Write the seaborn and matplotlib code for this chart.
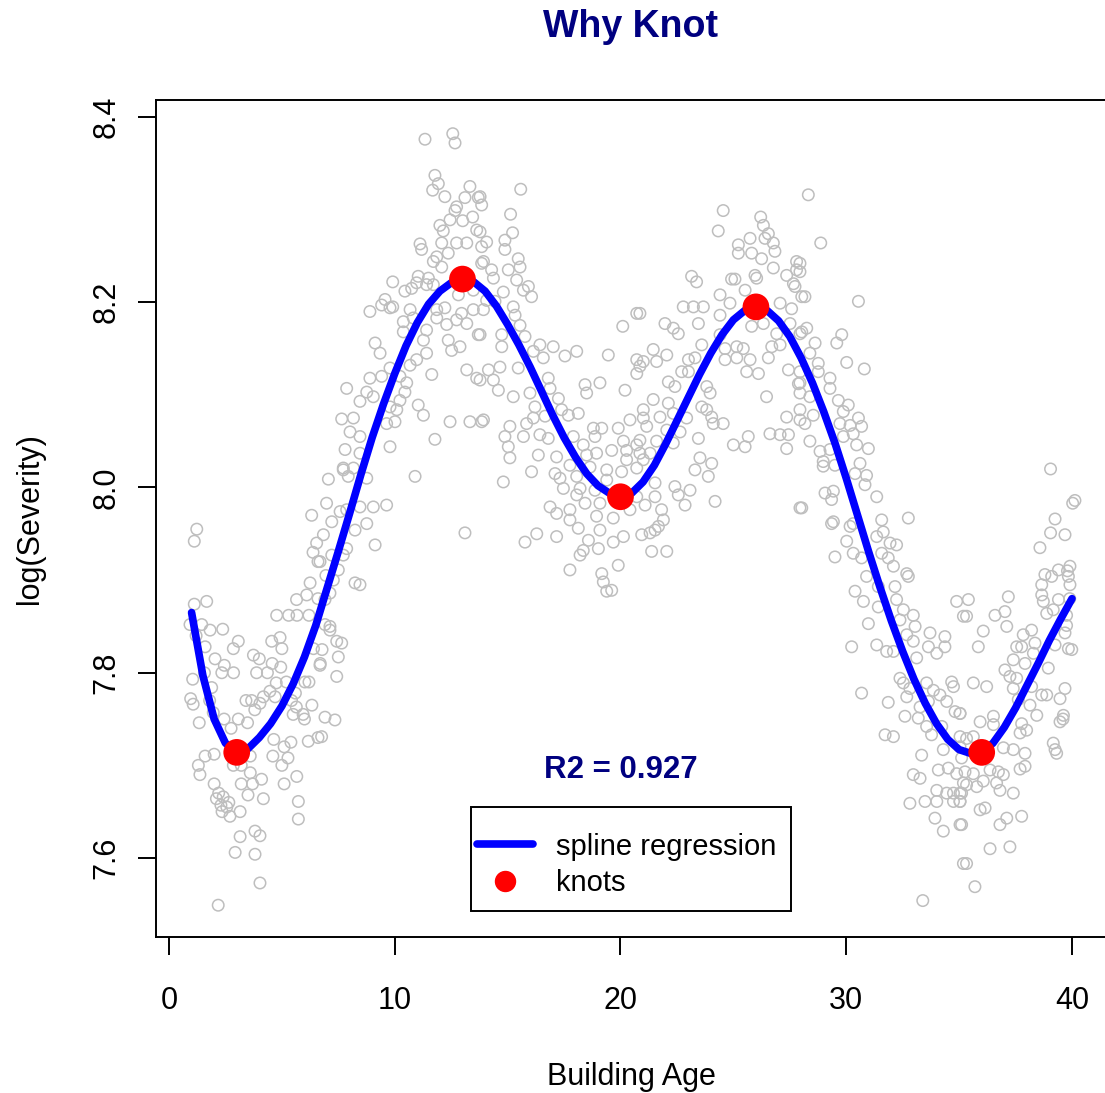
import matplotlib
matplotlib.use("Agg")
import matplotlib.pyplot as plt
import pandas as pd
import seaborn as sns
from matplotlib.lines import Line2D
from matplotlib.patches import Rectangle

# Observations (building age, log severity), grouped by age band
obs_young = [
    (1.23, 7.955), (1.12, 7.942), (1.12, 7.874), (1.67, 7.877), (0.93, 7.852), (1.45, 7.852),
    (1.82, 7.846), (2.38, 7.847), (1.20, 7.840), (1.60, 7.828), (3.07, 7.834), (2.85, 7.826),
    (2.04, 7.815), (2.45, 7.808), (2.86, 7.800), (2.34, 7.800), (1.05, 7.793), (1.57, 7.800),
    (1.89, 7.784), (0.96, 7.772), (1.07, 7.766), (1.80, 7.770), (1.96, 7.757), (1.34, 7.746),
    (2.44, 7.750), (2.75, 7.740), (3.07, 7.750), (3.48, 7.746), (3.41, 7.770), (3.66, 7.770),
    (3.80, 7.760), (3.74, 7.819), (4.00, 7.815), (3.88, 7.800), (4.36, 7.800), (4.57, 7.810),
    (4.95, 7.806), (4.55, 7.834), (4.92, 7.838), (5.00, 7.826), (4.18, 7.774), (4.47, 7.780),
    (4.70, 7.774), (4.03, 7.767), (5.43, 7.770), (5.64, 7.763), (5.94, 7.755), (5.50, 7.755),
    (6.00, 7.750), (4.75, 7.789), (5.20, 7.790), (5.60, 7.778), (4.77, 7.862), (5.30, 7.862),
    (5.67, 7.862), (6.20, 7.862), (5.65, 7.879), (6.10, 7.884), (6.25, 7.897), (6.32, 7.970),
    (6.54, 7.940), (6.60, 7.920), (6.40, 7.826), (6.70, 7.810), (6.20, 7.790), (6.17, 7.726),
    (6.60, 7.730), (5.40, 7.725), (5.10, 7.720), (4.64, 7.728), (4.60, 7.710), (5.00, 7.700),
    (5.27, 7.708), (5.66, 7.688), (5.10, 7.680), (5.73, 7.661), (5.73, 7.642), (4.18, 7.664),
    (4.10, 7.685), (3.70, 7.680), (3.50, 7.668), (3.20, 7.680), (3.60, 7.692), (3.60, 7.710),
    (3.20, 7.700), (2.85, 7.700), (1.37, 7.690), (1.30, 7.700), (1.60, 7.710), (2.00, 7.712),
    (2.00, 7.680), (2.20, 7.670), (2.10, 7.664), (2.40, 7.666), (2.30, 7.657), (2.56, 7.655),
    (2.35, 7.650), (2.65, 7.660), (3.15, 7.650), (2.70, 7.645), (3.15, 7.623), (2.93, 7.606),
    (3.81, 7.629), (4.03, 7.624), (3.81, 7.604), (4.03, 7.573), (2.18, 7.549),
    (6.38, 7.930), (6.69, 7.920), (6.95, 7.905), (6.60, 7.880), (7.13, 7.850), (6.78, 7.825),
    (6.02, 7.790), (6.33, 7.765), (6.91, 7.752),
]

obs_rising = [
    (11.34, 8.376), (12.57, 8.382), (12.67, 8.372), (11.78, 8.337), (11.93, 8.328), (11.68, 8.321),
    (12.22, 8.314), (13.33, 8.325), (13.11, 8.313), (13.70, 8.313), (12.74, 8.303), (12.67, 8.299),
    (13.45, 8.292), (12.45, 8.289), (13.01, 8.288), (12.00, 8.283), (12.15, 8.277), (13.63, 8.278),
    (11.12, 8.263), (11.19, 8.257), (12.08, 8.264), (12.74, 8.264), (13.19, 8.264), (13.85, 8.260),
    (11.86, 8.249), (12.37, 8.253), (11.71, 8.244), (12.08, 8.238), (13.85, 8.242), (9.91, 8.222),
    (11.04, 8.228), (11.49, 8.226), (10.97, 8.221), (10.75, 8.215), (10.45, 8.212), (11.41, 8.219),
    (11.71, 8.219), (12.82, 8.208), (13.48, 8.213), (9.57, 8.203), (9.42, 8.197), (9.91, 8.195),
    (8.90, 8.190), (9.79, 8.194), (10.68, 8.192), (11.86, 8.192), (12.22, 8.194), (13.48, 8.192),
    (10.38, 8.179), (10.82, 8.183), (11.41, 8.170), (11.86, 8.183), (12.30, 8.176), (12.74, 8.181),
    (12.96, 8.188), (13.19, 8.177), (10.38, 8.168), (11.27, 8.159), (9.13, 8.156), (9.35, 8.145),
    (12.37, 8.159), (12.52, 8.148), (12.89, 8.152), (13.70, 8.165), (10.68, 8.132), (10.97, 8.138),
    (11.41, 8.145), (9.79, 8.129), (7.87, 8.107), (8.90, 8.118), (9.42, 8.120), (10.23, 8.120),
    (10.53, 8.113), (11.64, 8.122), (13.19, 8.127), (13.63, 8.118), (8.76, 8.103), (9.05, 8.098),
    (10.45, 8.103), (10.23, 8.094), (8.46, 8.093), (9.79, 8.087), (10.09, 8.084), (11.04, 8.089),
    (11.27, 8.078), (7.65, 8.074), (8.17, 8.075), (9.64, 8.069), (10.01, 8.071), (12.45, 8.071),
    (13.33, 8.071), (13.85, 8.071), (8.02, 8.060), (8.46, 8.055), (11.78, 8.052), (9.79, 8.044),
    (7.80, 8.041), (8.46, 8.037), (7.72, 8.021),
    (7.72, 8.019), (8.17, 8.021), (7.06, 8.009), (7.94, 8.012), (8.76, 8.010), (10.90, 8.012),
    (6.98, 7.983), (7.58, 7.974), (7.87, 7.976), (8.46, 7.979), (9.05, 7.979), (9.64, 7.981),
    (7.21, 7.963), (8.24, 7.954), (8.76, 7.961), (13.11, 7.951), (6.84, 7.949), (9.13, 7.938),
    (7.87, 7.934), (7.72, 7.927), (7.21, 7.927), (7.50, 7.911), (7.28, 7.900), (8.24, 7.897),
    (8.46, 7.895), (7.13, 7.886), (6.91, 7.879), (6.91, 7.852), (7.13, 7.846), (7.43, 7.834),
    (7.65, 7.832), (7.50, 7.817), (6.69, 7.808), (7.43, 7.796), (7.35, 7.749), (6.76, 7.731),
]

obs_middle = [
    (15.58, 8.322), (13.78, 8.314), (13.85, 8.305), (15.13, 8.295), (15.22, 8.275), (13.78, 8.276),
    (14.07, 8.265), (14.88, 8.267), (14.88, 8.257), (13.93, 8.244), (15.47, 8.247), (15.55, 8.238),
    (14.29, 8.235), (15.03, 8.235), (14.37, 8.226), (15.40, 8.224), (15.92, 8.217), (15.70, 8.213),
    (16.06, 8.206), (14.81, 8.211), (14.07, 8.202), (14.44, 8.201), (15.25, 8.195), (13.93, 8.192),
    (15.33, 8.186), (20.72, 8.188), (15.55, 8.175), (13.78, 8.165), (14.74, 8.165), (20.10, 8.174),
    (15.77, 8.163), (14.74, 8.152), (16.43, 8.154), (17.02, 8.152), (18.06, 8.147), (19.46, 8.143),
    (16.14, 8.147), (16.58, 8.140), (17.54, 8.142), (15.47, 8.129), (14.66, 8.130), (14.15, 8.127),
    (13.78, 8.116), (20.72, 8.138), (20.72, 8.123), (14.37, 8.116), (14.59, 8.105), (16.80, 8.118),
    (16.88, 8.107), (18.43, 8.111), (18.50, 8.102), (19.09, 8.113), (20.20, 8.105), (15.25, 8.098),
    (15.99, 8.102), (17.25, 8.096), (16.21, 8.087), (17.39, 8.084), (17.69, 8.078), (18.13, 8.080),
    (13.93, 8.073), (16.14, 8.075), (16.66, 8.077), (20.42, 8.073), (21.01, 8.075), (15.10, 8.066),
    (15.84, 8.069), (18.80, 8.064), (19.17, 8.064), (19.90, 8.064), (14.88, 8.055), (15.70, 8.055),
    (16.43, 8.057), (16.80, 8.053), (17.91, 8.055), (18.87, 8.055), (20.13, 8.050), (15.03, 8.044),
    (18.35, 8.046), (19.61, 8.040), (20.27, 8.040), (20.72, 8.046), (15.10, 8.032), (16.36, 8.035),
    (17.17, 8.033), (18.50, 8.035), (18.94, 8.037), (20.27, 8.030), (21.01, 8.030), (17.76, 8.024),
    (16.06, 8.017), (17.10, 8.015), (18.65, 8.022), (19.39, 8.019), (20.05, 8.017), (20.72, 8.021),
    (14.81, 8.006), (17.32, 8.010), (18.06, 8.012), (19.39, 8.008), (17.47, 7.999), (18.21, 7.999),
    (18.06, 7.992), (18.87, 7.997), (20.72, 7.990), (16.88, 7.979), (17.76, 7.976), (18.43, 7.983),
    (19.09, 7.983), (20.42, 7.976), (17.17, 7.972), (17.76, 7.965), (18.94, 7.969), (19.68, 7.967),
    (18.13, 7.956), (19.09, 7.954), (20.13, 7.947), (20.94, 7.949), (16.29, 7.950), (15.77, 7.941),
    (17.17, 7.947), (18.58, 7.943), (19.68, 7.941), (18.35, 7.932), (19.02, 7.934), (18.21, 7.927),
    (19.90, 7.916), (17.76, 7.911), (19.17, 7.907), (19.24, 7.898), (19.39, 7.888), (19.61, 7.889),
]

obs_second_peak = [
    (24.55, 8.299), (24.33, 8.277), (26.21, 8.292), (26.33, 8.283), (26.55, 8.274), (26.40, 8.269),
    (26.77, 8.264), (26.84, 8.255), (25.74, 8.269), (25.22, 8.262), (25.22, 8.253), (25.81, 8.253),
    (26.25, 8.247), (26.77, 8.237), (27.80, 8.244), (27.80, 8.235), (27.36, 8.229), (25.96, 8.229),
    (26.03, 8.226), (24.92, 8.225), (25.07, 8.225), (23.15, 8.228), (23.37, 8.222), (27.66, 8.220),
    (27.73, 8.217), (25.52, 8.213), (24.41, 8.208), (28.03, 8.206), (24.85, 8.199), (22.78, 8.195),
    (23.23, 8.195), (23.67, 8.195), (27.07, 8.199), (27.58, 8.193), (24.41, 8.186), (21.97, 8.177),
    (22.34, 8.172), (22.56, 8.166), (23.45, 8.177), (25.81, 8.174), (26.33, 8.177), (26.92, 8.166),
    (27.51, 8.177), (28.03, 8.168), (24.41, 8.165), (20.86, 8.188), (23.60, 8.154), (21.45, 8.149),
    (22.05, 8.143), (24.63, 8.150), (25.15, 8.152), (25.44, 8.150), (26.70, 8.152), (27.07, 8.154),
    (21.01, 8.136), (21.60, 8.136), (23.01, 8.138), (23.30, 8.140), (24.63, 8.138), (25.15, 8.140),
    (25.74, 8.138), (26.55, 8.140), (27.44, 8.127), (27.95, 8.125), (20.86, 8.131), (22.71, 8.125),
    (23.01, 8.125), (25.59, 8.125), (26.11, 8.123), (27.88, 8.112), (22.12, 8.114), (22.41, 8.109),
    (23.82, 8.109), (23.97, 8.102), (21.45, 8.095), (26.47, 8.098), (27.95, 8.102), (22.12, 8.091),
    (23.60, 8.087), (23.82, 8.084), (21.01, 8.084), (21.75, 8.076), (22.34, 8.080), (22.93, 8.075),
    (24.04, 8.076), (24.11, 8.069), (24.55, 8.069), (27.36, 8.076), (27.95, 8.073), (21.16, 8.066),
    (22.05, 8.062), (22.64, 8.060), (26.62, 8.058), (27.07, 8.057), (27.44, 8.057), (20.86, 8.051),
    (21.60, 8.050), (22.34, 8.048), (23.45, 8.053), (25.00, 8.046), (25.52, 8.044), (25.66, 8.055),
    (27.36, 8.042), (20.86, 8.037), (21.31, 8.037), (23.52, 8.032), (23.30, 8.019), (24.04, 8.026),
    (23.89, 8.012), (21.53, 8.005), (21.09, 7.981), (21.53, 7.990), (22.41, 8.001), (22.56, 7.992),
    (23.08, 7.997), (22.86, 7.981), (24.19, 7.985), (27.95, 7.978), (21.82, 7.976), (21.90, 7.965),
    (21.68, 7.958), (21.31, 7.951), (21.53, 7.954), (21.38, 7.931), (22.05, 7.931),
]

obs_falling = [
    (28.32, 8.316), (28.87, 8.264), (27.95, 8.242), (27.95, 8.233), (28.17, 8.206), (30.54, 8.201),
    (28.25, 8.172), (27.95, 8.166), (28.62, 8.156), (29.58, 8.156), (29.80, 8.165), (28.39, 8.145),
    (28.76, 8.134), (30.02, 8.135), (30.80, 8.128), (28.76, 8.125), (29.28, 8.118), (29.28, 8.107),
    (27.95, 8.113), (28.39, 8.098), (29.65, 8.094), (30.09, 8.089), (27.95, 8.084), (28.54, 8.078),
    (28.17, 8.069), (29.87, 8.082), (30.54, 8.075), (30.68, 8.066), (30.17, 8.067), (29.72, 8.069),
    (29.87, 8.055), (30.31, 8.058), (28.39, 8.050), (30.46, 8.046), (30.98, 8.042), (28.84, 8.039),
    (29.28, 8.041), (28.98, 8.028), (29.50, 8.024), (28.98, 8.023), (30.61, 8.026), (30.90, 8.013),
    (30.39, 8.015), (30.83, 8.003), (29.06, 7.994), (29.43, 7.996), (29.35, 7.987), (31.35, 7.990),
    (28.03, 7.978), (29.43, 7.963), (30.31, 7.961), (31.57, 7.965), (32.75, 7.967),
    (29.35, 7.961), (30.17, 7.958), (30.02, 7.942), (30.31, 7.929), (29.50, 7.925), (30.68, 7.924),
    (31.35, 7.947), (31.64, 7.952), (31.94, 7.940), (32.23, 7.938), (31.57, 7.929), (31.86, 7.924),
    (32.09, 7.915), (32.68, 7.907), (32.75, 7.904), (30.90, 7.904), (31.42, 7.893), (30.39, 7.888),
    (32.16, 7.893), (30.76, 7.877), (31.42, 7.871), (32.23, 7.879), (34.89, 7.877), (32.53, 7.868),
    (32.97, 7.862), (35.19, 7.861), (30.98, 7.853), (32.38, 7.857), (33.05, 7.850), (33.71, 7.843),
    (34.37, 7.839), (32.68, 7.841), (32.97, 7.834), (30.24, 7.828), (31.35, 7.830), (31.79, 7.823),
    (32.09, 7.823), (33.64, 7.828), (34.37, 7.828), (34.01, 7.821), (33.12, 7.816), (32.38, 7.794),
    (32.53, 7.789), (32.82, 7.783), (33.56, 7.789), (33.86, 7.781), (34.67, 7.790), (34.75, 7.785),
    (30.68, 7.778), (31.86, 7.768), (32.68, 7.774), (33.27, 7.763), (33.64, 7.769), (34.15, 7.776),
    (34.45, 7.769), (34.82, 7.758), (35.04, 7.756), (32.60, 7.753), (33.19, 7.751), (33.56, 7.742),
    (33.78, 7.733), (31.72, 7.733), (32.09, 7.731), (34.23, 7.742), (35.04, 7.731), (34.30, 7.717),
    (33.34, 7.711), (35.11, 7.708), (34.08, 7.695), (34.52, 7.697), (34.89, 7.691), (32.97, 7.690),
    (33.27, 7.686), (35.19, 7.681), (34.01, 7.673), (34.45, 7.670), (34.75, 7.670), (35.04, 7.670),
    (32.82, 7.659), (33.49, 7.661), (34.01, 7.661), (34.75, 7.661), (35.04, 7.661), (33.93, 7.643),
    (34.30, 7.629), (35.04, 7.636), (35.19, 7.594), (33.39, 7.554),
]

obs_old = [
    (39.05, 8.020), (40.03, 7.983), (39.25, 7.966), (39.05, 7.951), (39.69, 7.949), (38.58, 7.935),
    (39.40, 7.911), (39.91, 7.915), (38.80, 7.906), (39.10, 7.904), (39.84, 7.904), (39.91, 7.895),
    (38.66, 7.895), (38.66, 7.884), (38.73, 7.877), (39.40, 7.879), (35.41, 7.879), (37.18, 7.882),
    (35.33, 7.861), (36.59, 7.862), (37.03, 7.866), (37.11, 7.850), (38.88, 7.864), (39.17, 7.868),
    (39.76, 7.862), (39.76, 7.851), (39.69, 7.843), (36.07, 7.845), (35.85, 7.828), (37.84, 7.841),
    (38.21, 7.846), (37.77, 7.828), (38.36, 7.832), (37.55, 7.828), (38.29, 7.821), (39.25, 7.830),
    (39.84, 7.826), (37.40, 7.814), (37.92, 7.810), (38.95, 7.805), (37.03, 7.803), (37.25, 7.796),
    (37.55, 7.794), (35.63, 7.789), (36.22, 7.785), (37.40, 7.783), (38.21, 7.785), (38.66, 7.776),
    (38.88, 7.776), (39.69, 7.783), (39.47, 7.772), (37.62, 7.771), (38.14, 7.765), (35.04, 7.756),
    (38.44, 7.754), (39.62, 7.754), (39.47, 7.747), (35.93, 7.747), (36.52, 7.753), (36.52, 7.744),
    (37.77, 7.745), (37.99, 7.738), (37.70, 7.735), (39.17, 7.724), (39.32, 7.713), (35.33, 7.729),
    (35.63, 7.731), (35.04, 7.720), (36.96, 7.719), (37.40, 7.717), (37.92, 7.713), (37.70, 7.696),
    (37.92, 7.699), (35.26, 7.693), (35.63, 7.691), (36.37, 7.695), (36.74, 7.693), (36.96, 7.690),
    (36.07, 7.683), (36.66, 7.681), (35.33, 7.679), (35.78, 7.677), (36.81, 7.673), (37.40, 7.670),
    (35.11, 7.670), (35.04, 7.661), (35.93, 7.652), (36.15, 7.654), (36.81, 7.636), (37.11, 7.643),
    (37.77, 7.645), (35.11, 7.636), (36.37, 7.610), (37.25, 7.612), (35.33, 7.594), (35.70, 7.569),
    (40.13, 7.986), (39.80, 7.910), (39.90, 7.880), (39.99, 7.825), (39.60, 7.750), (39.25, 7.717),
]

# Fitted spline (0.5-year grid) and knot locations
spline_age = [1.0, 1.5, 2.0, 2.5, 3.0, 3.5, 4.0, 4.5, 5.0, 5.5, 6.0, 6.5, 7.0, 7.5, 8.0, 8.5,
              9.0, 9.5, 10.0, 10.5, 11.0, 11.5, 12.0, 12.5, 13.0, 13.5, 14.0, 14.5, 15.0, 15.5,
              16.0, 16.5, 17.0, 17.5, 18.0, 18.5, 19.0, 19.5, 20.0, 20.5, 21.0, 21.5, 22.0, 22.5,
              23.0, 23.5, 24.0, 24.5, 25.0, 25.5, 26.0, 26.5, 27.0, 27.5, 28.0, 28.5, 29.0, 29.5,
              30.0, 30.5, 31.0, 31.5, 32.0, 32.5, 33.0, 33.5, 34.0, 34.5, 35.0, 35.5, 36.0, 36.5,
              37.0, 37.5, 38.0, 38.5, 39.0, 39.5, 40.0]
spline_fit = [7.865, 7.797, 7.750, 7.724, 7.714, 7.718, 7.730, 7.745, 7.764, 7.788, 7.817, 7.851,
              7.891, 7.931, 7.972, 8.014, 8.054, 8.090, 8.123, 8.153, 8.178, 8.198, 8.212, 8.221,
              8.225, 8.222, 8.212, 8.196, 8.176, 8.154, 8.130, 8.104, 8.078, 8.054, 8.033, 8.015,
              8.002, 7.994, 7.990, 7.994, 8.006, 8.024, 8.047, 8.072, 8.097, 8.122, 8.145, 8.165,
              8.181, 8.191, 8.195, 8.191, 8.180, 8.163, 8.140, 8.113, 8.082, 8.048, 8.010, 7.970,
              7.930, 7.892, 7.856, 7.823, 7.793, 7.767, 7.745, 7.728, 7.717, 7.713, 7.714, 7.724,
              7.741, 7.762, 7.786, 7.810, 7.835, 7.858, 7.880]
knot_age = [3, 13, 20, 26, 36]
knot_fit = [7.714, 8.225, 7.990, 8.195, 7.714]

x_ticks = [0, 10, 20, 30, 40]
y_ticks = [7.6, 7.8, 8.0, 8.2, 8.4]
r2_value = 0.927

points = pd.DataFrame(obs_young + obs_rising + obs_middle + obs_second_peak + obs_falling + obs_old,
                      columns=["age", "log_severity"])
spline = pd.DataFrame({"age": spline_age, "fit": spline_fit})
knots = pd.DataFrame({"age": knot_age, "fit": knot_fit})

sns.set_style("ticks")
plt.rcParams["font.family"] = ["Liberation Sans", "DejaVu Sans"]
plt.rcParams["text.color"] = "black"
plt.rcParams["axes.labelcolor"] = "black"
plt.rcParams["xtick.color"] = "black"
plt.rcParams["ytick.color"] = "black"

fig = plt.figure(figsize=(11.05, 10.93), dpi=100)
ax = fig.add_axes([0.1415, 0.1430, 0.8605, 0.7652])

# open grey circles for the observations
sns.scatterplot(data=points, x="age", y="log_severity", ax=ax, s=68, zorder=2)
pts = ax.collections[-1]
pts.set_facecolor("none")
pts.set_edgecolor("#BEBEBE")
pts.set_linewidth(1.1)

sns.lineplot(data=spline, x="age", y="fit", ax=ax, color="blue", lw=5.5, sort=False,
             estimator=None, solid_capstyle="round", solid_joinstyle="round", zorder=3)
sns.scatterplot(data=knots, x="age", y="fit", ax=ax, color="red", s=370, linewidth=0,
                edgecolor="none", zorder=4)

ax.set_xlim(-0.56, 41.56)
ax.set_ylim(7.515, 8.418)
ax.set_xticks(x_ticks)
ax.set_xticklabels([str(t) for t in x_ticks])
ax.set_yticks(y_ticks)
ax.set_yticklabels([f"{t:.1f}" for t in y_ticks], rotation=90, va="center")
ax.tick_params(axis="both", length=12.8, width=1.4, direction="out", labelsize=22,
               color="black", labelcolor="black")
ax.tick_params(axis="x", pad=23)
ax.tick_params(axis="y", pad=12.5)
for side in ["left", "bottom", "top", "right"]:
    ax.spines[side].set_linewidth(1.4)
    ax.spines[side].set_color("black")

ax.set_xlabel("Building Age", fontsize=22)
ax.set_ylabel("log(Severity)", fontsize=22)
ax.xaxis.set_label_coords(0.5, -0.1677)
ax.xaxis.label.set_va("center")
ax.yaxis.set_label_coords(-0.1329, 0.5)
ax.yaxis.label.set_va("center")

ax.text(20, 7.695, f"R2 = {r2_value}", ha="center", va="center", fontsize=22.5,
        fontweight="bold", color="navy")

handles = [Line2D([], [], color="blue", lw=5.5, solid_capstyle="round"),
           Line2D([], [], marker="o", color="red", ls="none", markersize=14.4)]
ax.legend(handles, ["spline regression", "knots"], loc="center left",
          bbox_to_anchor=(0.3224, 0.0860), frameon=False, borderpad=0, handlelength=1.9,
          handletextpad=0.8, labelspacing=0.28, fontsize=21)
ax.add_patch(Rectangle((0.3309, 0.0307), 0.3365, 0.1244, transform=ax.transAxes, fill=False,
                       edgecolor="black", linewidth=1.4, zorder=5))

fig.text(0.571, 1 - 27 / 1093, "Why Knot", ha="center", va="center", fontsize=27,
         fontweight="bold", color="navy")

fig.savefig("out.png", dpi=100, facecolor="white")
